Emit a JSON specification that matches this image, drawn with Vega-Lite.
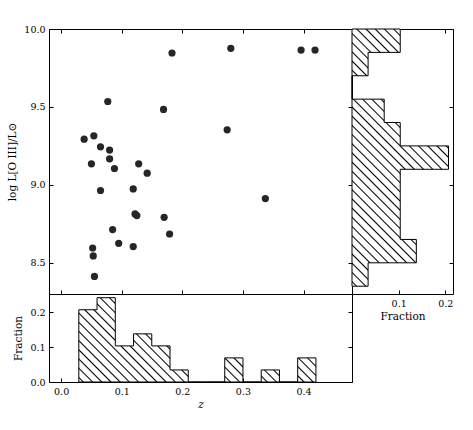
{
  "$schema": "https://vega.github.io/schema/vega-lite/v6.json",
  "background": "white",
  "padding": {"left": 7, "top": 24, "right": 5, "bottom": 5},
  "config": {
    "font": "DejaVu Serif",
    "view": {"stroke": null},
    "axis": {
      "labelFont": "DejaVu Serif", "titleFont": "DejaVu Serif",
      "labelFontSize": 9.5, "titleFontSize": 10.5, "titleFontWeight": "normal",
      "labelColor": "#000", "titleColor": "#000", "tickColor": "#000", "domainColor": "#000",
      "grid": false, "tickSize": -4, "tickWidth": 1, "domainWidth": 1,
      "labelPadding": 8, "zindex": 1
    }
  },
  "datasets": {
    "points": [
      {"z": 0.038, "logL": 9.293}, {"z": 0.054, "logL": 9.315}, {"z": 0.065, "logL": 9.244},
      {"z": 0.080, "logL": 9.223}, {"z": 0.080, "logL": 9.167}, {"z": 0.050, "logL": 9.135},
      {"z": 0.088, "logL": 9.105}, {"z": 0.077, "logL": 9.535}, {"z": 0.065, "logL": 8.964},
      {"z": 0.119, "logL": 8.974}, {"z": 0.128, "logL": 9.135}, {"z": 0.142, "logL": 9.075},
      {"z": 0.122, "logL": 8.814}, {"z": 0.125, "logL": 8.803}, {"z": 0.085, "logL": 8.713},
      {"z": 0.095, "logL": 8.625}, {"z": 0.119, "logL": 8.604}, {"z": 0.052, "logL": 8.595},
      {"z": 0.053, "logL": 8.544}, {"z": 0.055, "logL": 8.413}, {"z": 0.169, "logL": 9.484},
      {"z": 0.170, "logL": 8.792}, {"z": 0.179, "logL": 8.685}, {"z": 0.183, "logL": 9.846},
      {"z": 0.280, "logL": 9.876}, {"z": 0.274, "logL": 9.353}, {"z": 0.337, "logL": 8.912},
      {"z": 0.396, "logL": 9.865}, {"z": 0.419, "logL": 9.865}
    ],
    "zhist": [
      {"z_lo": 0.0292, "z_hi": 0.0593, "frac": 0.2069},
      {"z_lo": 0.0593, "z_hi": 0.0894, "frac": 0.2414},
      {"z_lo": 0.0894, "z_hi": 0.1195, "frac": 0.1034},
      {"z_lo": 0.1195, "z_hi": 0.1496, "frac": 0.1379},
      {"z_lo": 0.1496, "z_hi": 0.1797, "frac": 0.1034},
      {"z_lo": 0.1797, "z_hi": 0.2098, "frac": 0.0345},
      {"z_lo": 0.2098, "z_hi": 0.2399, "frac": 0},
      {"z_lo": 0.2399, "z_hi": 0.2700, "frac": 0},
      {"z_lo": 0.2700, "z_hi": 0.3001, "frac": 0.0690},
      {"z_lo": 0.3001, "z_hi": 0.3302, "frac": 0},
      {"z_lo": 0.3302, "z_hi": 0.3603, "frac": 0.0345},
      {"z_lo": 0.3603, "z_hi": 0.3904, "frac": 0},
      {"z_lo": 0.3904, "z_hi": 0.4205, "frac": 0.0690}
    ],
    "lhist": [
      {"l_hi": 10.00, "l_lo": 9.85, "frac": 0.1034},
      {"l_hi": 9.85, "l_lo": 9.70, "frac": 0.0345},
      {"l_hi": 9.70, "l_lo": 9.55, "frac": 0},
      {"l_hi": 9.55, "l_lo": 9.40, "frac": 0.0690},
      {"l_hi": 9.40, "l_lo": 9.25, "frac": 0.1034},
      {"l_hi": 9.25, "l_lo": 9.10, "frac": 0.2069},
      {"l_hi": 9.10, "l_lo": 8.95, "frac": 0.1034},
      {"l_hi": 8.95, "l_lo": 8.80, "frac": 0.1034},
      {"l_hi": 8.80, "l_lo": 8.65, "frac": 0.1034},
      {"l_hi": 8.65, "l_lo": 8.50, "frac": 0.1379},
      {"l_hi": 8.50, "l_lo": 8.35, "frac": 0.0345}
    ]
  },
  "spacing": 0,
  "bounds": "flush",
  "columns": 2,
  "concat": [
    {
      "width": 303,
      "height": 265,
      "data": {"name": "points"},
      "layer": [
        {
          "mark": {"type": "circle", "size": 52, "color": "#262626", "opacity": 1},
          "encoding": {
            "x": {"field": "z", "type": "quantitative", "scale": {"domain": [-0.02, 0.48], "nice": false, "zero": false},
                  "axis": {"orient": "bottom", "values": [0, 0.1, 0.2, 0.3, 0.4], "labels": false, "title": null}},
            "y": {"field": "logL", "type": "quantitative", "scale": {"domain": [8.3, 10.0], "nice": false, "zero": false},
                  "axis": {"orient": "left", "values": [8.5, 9.0, 9.5, 10.0], "format": ".1f", "title": "log L[O III]/L⊙", "titlePadding": 6}}
          }
        },
        {
          "mark": {"type": "circle", "size": 52, "opacity": 0},
          "encoding": {
            "x": {"field": "z", "type": "quantitative", "scale": {"domain": [-0.02, 0.48], "nice": false, "zero": false},
                  "axis": {"orient": "top", "values": [0, 0.1, 0.2, 0.3, 0.4], "labels": false, "title": null}},
            "y": {"field": "logL", "type": "quantitative", "scale": {"domain": [8.3, 10.0], "nice": false, "zero": false},
                  "axis": {"orient": "right", "values": [8.5, 9.0, 9.5, 10.0], "labels": false, "title": null}}
          }
        }
      ],
      "resolve": {"axis": {"x": "independent", "y": "independent"}}
    },
    {
      "width": 101,
      "height": 265,
      "data": {"name": "lhist"},
      "transform": [{"fold": ["l_hi", "l_lo"], "as": ["side", "edge"]}],
      "layer": [
        {
          "mark": {
            "type": "area", "orient": "horizontal", "interpolate": "linear",
            "stroke": "#000", "strokeWidth": 1,
            "fill": {"gradient": "linear", "x1": 0, "y1": 1, "x2": 0.4702, "y2": -0.2532, "stops": [
              {"offset": 0.0085, "color": "#fff"}, {"offset": 0.0125, "color": "#000"}, {"offset": 0.0165, "color": "#fff"},
              {"offset": 0.0335, "color": "#fff"}, {"offset": 0.0375, "color": "#000"}, {"offset": 0.0415, "color": "#fff"},
              {"offset": 0.0585, "color": "#fff"}, {"offset": 0.0625, "color": "#000"}, {"offset": 0.0665, "color": "#fff"},
              {"offset": 0.0835, "color": "#fff"}, {"offset": 0.0875, "color": "#000"}, {"offset": 0.0915, "color": "#fff"},
              {"offset": 0.1085, "color": "#fff"}, {"offset": 0.1125, "color": "#000"}, {"offset": 0.1165, "color": "#fff"},
              {"offset": 0.1335, "color": "#fff"}, {"offset": 0.1375, "color": "#000"}, {"offset": 0.1415, "color": "#fff"},
              {"offset": 0.1585, "color": "#fff"}, {"offset": 0.1625, "color": "#000"}, {"offset": 0.1665, "color": "#fff"},
              {"offset": 0.1835, "color": "#fff"}, {"offset": 0.1875, "color": "#000"}, {"offset": 0.1915, "color": "#fff"},
              {"offset": 0.2085, "color": "#fff"}, {"offset": 0.2125, "color": "#000"}, {"offset": 0.2165, "color": "#fff"},
              {"offset": 0.2335, "color": "#fff"}, {"offset": 0.2375, "color": "#000"}, {"offset": 0.2415, "color": "#fff"},
              {"offset": 0.2585, "color": "#fff"}, {"offset": 0.2625, "color": "#000"}, {"offset": 0.2665, "color": "#fff"},
              {"offset": 0.2835, "color": "#fff"}, {"offset": 0.2875, "color": "#000"}, {"offset": 0.2915, "color": "#fff"},
              {"offset": 0.3085, "color": "#fff"}, {"offset": 0.3125, "color": "#000"}, {"offset": 0.3165, "color": "#fff"},
              {"offset": 0.3335, "color": "#fff"}, {"offset": 0.3375, "color": "#000"}, {"offset": 0.3415, "color": "#fff"},
              {"offset": 0.3585, "color": "#fff"}, {"offset": 0.3625, "color": "#000"}, {"offset": 0.3665, "color": "#fff"},
              {"offset": 0.3835, "color": "#fff"}, {"offset": 0.3875, "color": "#000"}, {"offset": 0.3915, "color": "#fff"},
              {"offset": 0.4085, "color": "#fff"}, {"offset": 0.4125, "color": "#000"}, {"offset": 0.4165, "color": "#fff"},
              {"offset": 0.4335, "color": "#fff"}, {"offset": 0.4375, "color": "#000"}, {"offset": 0.4415, "color": "#fff"},
              {"offset": 0.4585, "color": "#fff"}, {"offset": 0.4625, "color": "#000"}, {"offset": 0.4665, "color": "#fff"},
              {"offset": 0.4835, "color": "#fff"}, {"offset": 0.4875, "color": "#000"}, {"offset": 0.4915, "color": "#fff"},
              {"offset": 0.5085, "color": "#fff"}, {"offset": 0.5125, "color": "#000"}, {"offset": 0.5165, "color": "#fff"},
              {"offset": 0.5335, "color": "#fff"}, {"offset": 0.5375, "color": "#000"}, {"offset": 0.5415, "color": "#fff"},
              {"offset": 0.5585, "color": "#fff"}, {"offset": 0.5625, "color": "#000"}, {"offset": 0.5665, "color": "#fff"},
              {"offset": 0.5835, "color": "#fff"}, {"offset": 0.5875, "color": "#000"}, {"offset": 0.5915, "color": "#fff"},
              {"offset": 0.6085, "color": "#fff"}, {"offset": 0.6125, "color": "#000"}, {"offset": 0.6165, "color": "#fff"},
              {"offset": 0.6335, "color": "#fff"}, {"offset": 0.6375, "color": "#000"}, {"offset": 0.6415, "color": "#fff"},
              {"offset": 0.6585, "color": "#fff"}, {"offset": 0.6625, "color": "#000"}, {"offset": 0.6665, "color": "#fff"},
              {"offset": 0.6835, "color": "#fff"}, {"offset": 0.6875, "color": "#000"}, {"offset": 0.6915, "color": "#fff"},
              {"offset": 0.7085, "color": "#fff"}, {"offset": 0.7125, "color": "#000"}, {"offset": 0.7165, "color": "#fff"},
              {"offset": 0.7335, "color": "#fff"}, {"offset": 0.7375, "color": "#000"}, {"offset": 0.7415, "color": "#fff"},
              {"offset": 0.7585, "color": "#fff"}, {"offset": 0.7625, "color": "#000"}, {"offset": 0.7665, "color": "#fff"},
              {"offset": 0.7835, "color": "#fff"}, {"offset": 0.7875, "color": "#000"}, {"offset": 0.7915, "color": "#fff"},
              {"offset": 0.8085, "color": "#fff"}, {"offset": 0.8125, "color": "#000"}, {"offset": 0.8165, "color": "#fff"},
              {"offset": 0.8335, "color": "#fff"}, {"offset": 0.8375, "color": "#000"}, {"offset": 0.8415, "color": "#fff"},
              {"offset": 0.8585, "color": "#fff"}, {"offset": 0.8625, "color": "#000"}, {"offset": 0.8665, "color": "#fff"},
              {"offset": 0.8835, "color": "#fff"}, {"offset": 0.8875, "color": "#000"}, {"offset": 0.8915, "color": "#fff"},
              {"offset": 0.9085, "color": "#fff"}, {"offset": 0.9125, "color": "#000"}, {"offset": 0.9165, "color": "#fff"},
              {"offset": 0.9335, "color": "#fff"}, {"offset": 0.9375, "color": "#000"}, {"offset": 0.9415, "color": "#fff"},
              {"offset": 0.9585, "color": "#fff"}, {"offset": 0.9625, "color": "#000"}, {"offset": 0.9665, "color": "#fff"},
              {"offset": 0.9835, "color": "#fff"}, {"offset": 0.9875, "color": "#000"}, {"offset": 0.9915, "color": "#fff"}
            ]}
          },
          "encoding": {
            "x": {"field": "frac", "type": "quantitative", "stack": null, "scale": {"domain": [0, 0.2165], "nice": false},
                  "axis": {"orient": "bottom", "values": [0.1, 0.2], "format": ".1f", "title": "Fraction", "titlePadding": 4}},
            "y": {"field": "edge", "type": "quantitative", "scale": {"domain": [8.3, 10.0], "nice": false, "zero": false},
                  "axis": {"orient": "right", "values": [8.5, 9.0, 9.5, 10.0], "labels": false, "title": null}}
          }
        },
        {
          "mark": {"type": "point", "opacity": 0},
          "encoding": {
            "x": {"field": "frac", "type": "quantitative", "scale": {"domain": [0, 0.2165], "nice": false},
                  "axis": {"orient": "top", "values": [0.1, 0.2], "labels": false, "title": null}},
            "y": {"field": "edge", "type": "quantitative", "scale": {"domain": [8.3, 10.0], "nice": false, "zero": false}, "axis": null}
          }
        }
      ],
      "resolve": {"axis": {"x": "independent", "y": "independent"}}
    },
    {
      "width": 303,
      "height": 88,
      "data": {"name": "zhist"},
      "transform": [{"fold": ["z_lo", "z_hi"], "as": ["side", "edge"]}],
      "layer": [
        {
          "mark": {
            "type": "area", "orient": "vertical", "interpolate": "linear",
            "stroke": "#000", "strokeWidth": 1,
            "fill": {"gradient": "linear", "x1": 0, "y1": 1, "x2": 1.3765, "y2": 0.5106, "stops": [
              {"offset": 0.0085, "color": "#fff"}, {"offset": 0.0125, "color": "#000"}, {"offset": 0.0165, "color": "#fff"},
              {"offset": 0.0335, "color": "#fff"}, {"offset": 0.0375, "color": "#000"}, {"offset": 0.0415, "color": "#fff"},
              {"offset": 0.0585, "color": "#fff"}, {"offset": 0.0625, "color": "#000"}, {"offset": 0.0665, "color": "#fff"},
              {"offset": 0.0835, "color": "#fff"}, {"offset": 0.0875, "color": "#000"}, {"offset": 0.0915, "color": "#fff"},
              {"offset": 0.1085, "color": "#fff"}, {"offset": 0.1125, "color": "#000"}, {"offset": 0.1165, "color": "#fff"},
              {"offset": 0.1335, "color": "#fff"}, {"offset": 0.1375, "color": "#000"}, {"offset": 0.1415, "color": "#fff"},
              {"offset": 0.1585, "color": "#fff"}, {"offset": 0.1625, "color": "#000"}, {"offset": 0.1665, "color": "#fff"},
              {"offset": 0.1835, "color": "#fff"}, {"offset": 0.1875, "color": "#000"}, {"offset": 0.1915, "color": "#fff"},
              {"offset": 0.2085, "color": "#fff"}, {"offset": 0.2125, "color": "#000"}, {"offset": 0.2165, "color": "#fff"},
              {"offset": 0.2335, "color": "#fff"}, {"offset": 0.2375, "color": "#000"}, {"offset": 0.2415, "color": "#fff"},
              {"offset": 0.2585, "color": "#fff"}, {"offset": 0.2625, "color": "#000"}, {"offset": 0.2665, "color": "#fff"},
              {"offset": 0.2835, "color": "#fff"}, {"offset": 0.2875, "color": "#000"}, {"offset": 0.2915, "color": "#fff"},
              {"offset": 0.3085, "color": "#fff"}, {"offset": 0.3125, "color": "#000"}, {"offset": 0.3165, "color": "#fff"},
              {"offset": 0.3335, "color": "#fff"}, {"offset": 0.3375, "color": "#000"}, {"offset": 0.3415, "color": "#fff"},
              {"offset": 0.3585, "color": "#fff"}, {"offset": 0.3625, "color": "#000"}, {"offset": 0.3665, "color": "#fff"},
              {"offset": 0.3835, "color": "#fff"}, {"offset": 0.3875, "color": "#000"}, {"offset": 0.3915, "color": "#fff"},
              {"offset": 0.4085, "color": "#fff"}, {"offset": 0.4125, "color": "#000"}, {"offset": 0.4165, "color": "#fff"},
              {"offset": 0.4335, "color": "#fff"}, {"offset": 0.4375, "color": "#000"}, {"offset": 0.4415, "color": "#fff"},
              {"offset": 0.4585, "color": "#fff"}, {"offset": 0.4625, "color": "#000"}, {"offset": 0.4665, "color": "#fff"},
              {"offset": 0.4835, "color": "#fff"}, {"offset": 0.4875, "color": "#000"}, {"offset": 0.4915, "color": "#fff"},
              {"offset": 0.5085, "color": "#fff"}, {"offset": 0.5125, "color": "#000"}, {"offset": 0.5165, "color": "#fff"},
              {"offset": 0.5335, "color": "#fff"}, {"offset": 0.5375, "color": "#000"}, {"offset": 0.5415, "color": "#fff"},
              {"offset": 0.5585, "color": "#fff"}, {"offset": 0.5625, "color": "#000"}, {"offset": 0.5665, "color": "#fff"},
              {"offset": 0.5835, "color": "#fff"}, {"offset": 0.5875, "color": "#000"}, {"offset": 0.5915, "color": "#fff"},
              {"offset": 0.6085, "color": "#fff"}, {"offset": 0.6125, "color": "#000"}, {"offset": 0.6165, "color": "#fff"},
              {"offset": 0.6335, "color": "#fff"}, {"offset": 0.6375, "color": "#000"}, {"offset": 0.6415, "color": "#fff"},
              {"offset": 0.6585, "color": "#fff"}, {"offset": 0.6625, "color": "#000"}, {"offset": 0.6665, "color": "#fff"},
              {"offset": 0.6835, "color": "#fff"}, {"offset": 0.6875, "color": "#000"}, {"offset": 0.6915, "color": "#fff"},
              {"offset": 0.7085, "color": "#fff"}, {"offset": 0.7125, "color": "#000"}, {"offset": 0.7165, "color": "#fff"},
              {"offset": 0.7335, "color": "#fff"}, {"offset": 0.7375, "color": "#000"}, {"offset": 0.7415, "color": "#fff"},
              {"offset": 0.7585, "color": "#fff"}, {"offset": 0.7625, "color": "#000"}, {"offset": 0.7665, "color": "#fff"},
              {"offset": 0.7835, "color": "#fff"}, {"offset": 0.7875, "color": "#000"}, {"offset": 0.7915, "color": "#fff"},
              {"offset": 0.8085, "color": "#fff"}, {"offset": 0.8125, "color": "#000"}, {"offset": 0.8165, "color": "#fff"},
              {"offset": 0.8335, "color": "#fff"}, {"offset": 0.8375, "color": "#000"}, {"offset": 0.8415, "color": "#fff"},
              {"offset": 0.8585, "color": "#fff"}, {"offset": 0.8625, "color": "#000"}, {"offset": 0.8665, "color": "#fff"},
              {"offset": 0.8835, "color": "#fff"}, {"offset": 0.8875, "color": "#000"}, {"offset": 0.8915, "color": "#fff"},
              {"offset": 0.9085, "color": "#fff"}, {"offset": 0.9125, "color": "#000"}, {"offset": 0.9165, "color": "#fff"},
              {"offset": 0.9335, "color": "#fff"}, {"offset": 0.9375, "color": "#000"}, {"offset": 0.9415, "color": "#fff"},
              {"offset": 0.9585, "color": "#fff"}, {"offset": 0.9625, "color": "#000"}, {"offset": 0.9665, "color": "#fff"},
              {"offset": 0.9835, "color": "#fff"}, {"offset": 0.9875, "color": "#000"}, {"offset": 0.9915, "color": "#fff"}
            ]}
          },
          "encoding": {
            "x": {"field": "edge", "type": "quantitative", "scale": {"domain": [-0.02, 0.48], "nice": false, "zero": false},
                  "axis": {"orient": "bottom", "values": [0, 0.1, 0.2, 0.3, 0.4], "format": ".1f", "title": "z", "titleFontStyle": "italic", "titlePadding": 4}},
            "y": {"field": "frac", "type": "quantitative", "stack": null, "scale": {"domain": [0, 0.252], "nice": false},
                  "axis": {"orient": "left", "values": [0, 0.1, 0.2], "format": ".1f", "title": "Fraction", "titlePadding": 6}}
          }
        },
        {
          "mark": {"type": "point", "opacity": 0},
          "encoding": {
            "x": {"field": "edge", "type": "quantitative", "scale": {"domain": [-0.02, 0.48], "nice": false, "zero": false}, "axis": null},
            "y": {"field": "frac", "type": "quantitative", "scale": {"domain": [0, 0.252], "nice": false},
                  "axis": {"orient": "right", "values": [0, 0.1, 0.2], "labels": false, "title": null}}
          }
        }
      ],
      "resolve": {"axis": {"x": "independent", "y": "independent"}}
    }
  ]
}
